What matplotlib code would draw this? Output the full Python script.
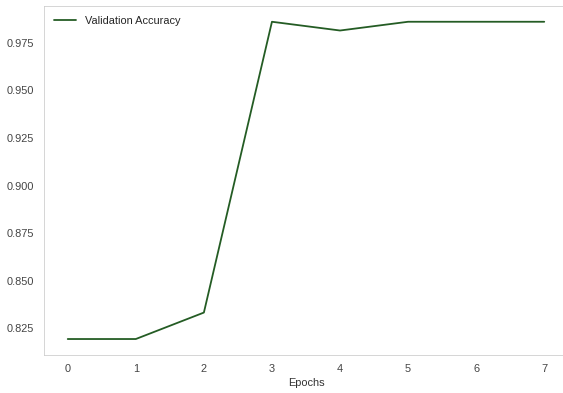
import matplotlib
matplotlib.use("Agg")
import matplotlib.pyplot as plt
import seaborn as sns

# Dados da acurácia de validação por época
epocas = [0, 1, 2, 3, 4, 5, 6, 7]
val_acc = [0.8194, 0.8194, 0.8333, 0.9861, 0.9815, 0.9861, 0.9861, 0.9861]
y_ticks = [0.825, 0.850, 0.875, 0.900, 0.925, 0.950, 0.975]

sns.set_style("whitegrid")
plt.rcParams["font.family"] = ["Liberation Sans", "DejaVu Sans"]

fig = plt.figure(figsize=(563 / 72, 393 / 72), dpi=72)
ax = fig.add_subplot(111)
# o eixo direito fica fora da imagem, como no original
fig.subplots_adjust(left=0.078, right=1.009, top=0.985, bottom=0.097)

ax.plot(epocas, val_acc, color="#245c24", linewidth=1.8, label="Validation Accuracy")

ax.set_yticks(y_ticks)
ax.set_xticks(epocas)
ax.set_xlabel("Epochs", fontsize=11, color="#333333", labelpad=4)
ax.tick_params(labelsize=11, colors="#444444", pad=6)
ax.grid(False)
for s in ax.spines.values():
    s.set_color("#cccccc")
ax.spines["right"].set_visible(False)

ax.legend(loc="upper left", frameon=False, fontsize=11)

fig.savefig("out.png", dpi=72)
